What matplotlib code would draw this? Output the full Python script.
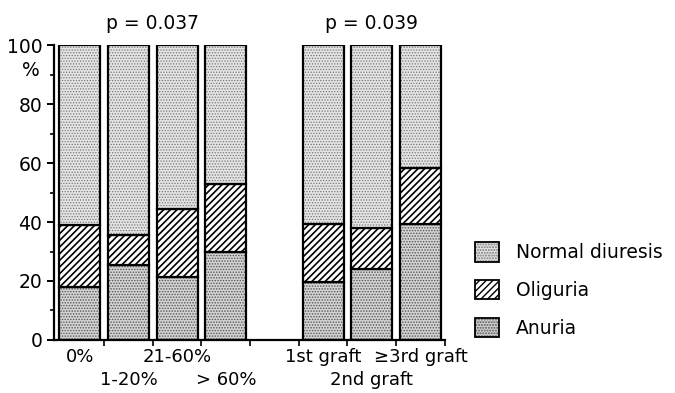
import matplotlib
matplotlib.use("Agg")
import matplotlib.pyplot as plt
from matplotlib.patches import Patch
import numpy as np

# values (percent)
categories = ["0%", "1-20%", "21-60%", "> 60%", "1st graft", "2nd graft", "\u22653rd graft"]
anuria = [18, 25.5, 21.5, 30, 19.5, 24, 39.5]
oliguria = [21, 10, 23, 23, 20, 14, 19]
normal = [100 - a - o for a, o in zip(anuria, oliguria)]
p_labels = ["p = 0.037", "p = 0.039"]

plt.rcParams["font.family"] = ["DejaVu Sans"]

pos = np.array([0, 1, 2, 3, 5, 6, 7])
width = 0.84
bottom2 = [a + o for a, o in zip(anuria, oliguria)]

fig = plt.figure(figsize=(6.75, 3.93), dpi=100)
ax = fig.add_axes([0.08, 0.135, 0.579, 0.75])


def layer(values, bottom, face, hatch, hcolor, hlw):
    with plt.rc_context({"hatch.linewidth": hlw}):
        b = ax.bar(pos, values, width, bottom=bottom, color=face, hatch=hatch,
                   edgecolor=hcolor, linewidth=0)
    ax.bar(pos, values, width, bottom=bottom, fill=False, edgecolor="black", linewidth=1.6)
    return b


b1 = layer(anuria, None, "#d3d3d3", "......", "#555555", 0.7)
b2 = layer(oliguria, anuria, "white", "/////", "black", 1.2)
b3 = layer(normal, bottom2, "#e4e4e4", "......", "#777777", 0.6)

ax.set_xlim(-0.53, 7.45)
ax.set_ylim(0, 100)
ax.spines["top"].set_visible(False)
ax.spines["right"].set_visible(False)
for s in ("left", "bottom"):
    ax.spines[s].set_linewidth(1.6)

ax.set_yticks([0, 20, 40, 60, 80, 100])
ax.set_yticks(np.arange(10, 100, 20), minor=True)
ax.tick_params(axis="y", which="major", labelsize=13.5, length=5, width=1.4)
ax.tick_params(axis="y", which="minor", length=3, width=1.2)

# two staggered rows of category labels
ax.set_xticks(pos[::2])
ax.set_xticklabels(categories[::2], fontsize=13)
ax.tick_params(axis="x", which="major", length=0, pad=6)
for x, c in zip(pos[1::2], categories[1::2]):
    ax.text(x, -0.135, c, fontsize=13, ha="center", va="center",
            transform=ax.get_xaxis_transform())
ax.set_xticks(np.arange(0.5, 7.6, 1.0), minor=True)
ax.tick_params(axis="x", which="minor", length=4, width=1.2)

ax.text(31 / 675, 1 - 70 / 393, "%", fontsize=13.5, ha="center", va="center",
        transform=fig.transFigure)

ax.text(1.5, 104, p_labels[0], fontsize=13.5, ha="center", va="bottom")
ax.text(6, 104, p_labels[1], fontsize=13.5, ha="center", va="bottom")

frame = Patch(fill=False, edgecolor="black", linewidth=1.3)
fig.legend([(b3, frame), (b2, frame), (b1, frame)],
           ["Normal diuresis", "Oliguria", "Anuria"],
           loc="center left", bbox_to_anchor=(475 / 675, 1 - 290 / 393),
           frameon=False, borderpad=0, borderaxespad=0,
           fontsize=13.5, handlelength=1.3, handleheight=1.2,
           labelspacing=0.95, handletextpad=0.9)

fig.savefig("out.png", dpi=100, facecolor="white")
